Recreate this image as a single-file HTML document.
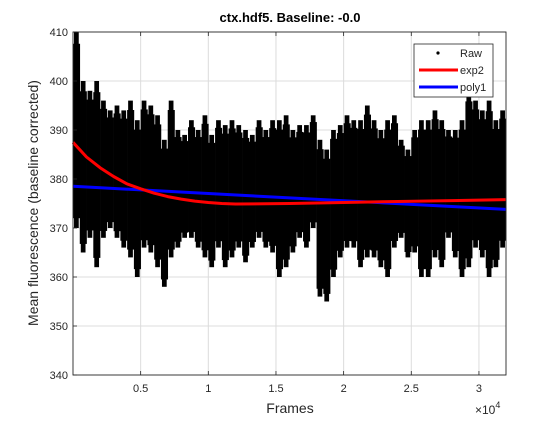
<!DOCTYPE html>
<html><head><meta charset="utf-8"><style>
body{margin:0;background:#fff}
svg text{font-family:"Liberation Sans",Arial,sans-serif;fill:#262626}
</style></head><body>
<svg id="chart" width="560" height="420" xmlns="http://www.w3.org/2000/svg">
<rect x="0" y="0" width="560" height="420" fill="#fff"/>
<g id="grid"></g>
<g id="raw"></g>
<g id="fits"></g>
<g id="axes"></g>
<text x="290" y="22" text-anchor="middle" font-size="13" font-weight="bold" style="fill:#000">ctx.hdf5. Baseline: -0.0</text>
<text x="290" y="413" text-anchor="middle" font-size="14">Frames</text>
<text x="475" y="414" font-size="12">×10<tspan dy="-6" font-size="9">4</tspan></text>
<text transform="translate(38,203) rotate(-90)" text-anchor="middle" font-size="14">Mean fluorescence (baseline corrected)</text>
<g>
<rect x="414" y="44" width="79" height="53" fill="#fff" stroke="#262626" stroke-width="0.8"/>
<circle cx="438" cy="53" r="1.6" fill="#000"/>
<text x="460" y="57" font-size="11">Raw</text>
<line x1="419" y1="70" x2="458" y2="70" stroke="#f00" stroke-width="3"/>
<text x="460" y="74" font-size="11">exp2</text>
<line x1="419" y1="87" x2="458" y2="87" stroke="#00f" stroke-width="3"/>
<text x="460" y="91" font-size="11">poly1</text>
</g>
</svg>
<script>
const binSize = 500;
const rawHi = [410,400,398,400,396,394, 395,394,396,392,396,395,393,388, 396,390,389,392,390,393,
  389,392,391,392,391,390,389,392, 390,392,392,393,390,391,391,393, 388,386,390,391,393,392,392,395,
  392,390,392,393,388,386,390,392, 392,394,392,390,390,392,398,396,394,396,392,394];
const rawLo = [370,365,368,362,368,370, 368,366,364,360,366,365,362,358, 364,366,368,368,366,364,
  362,366,362,364,366,363,366,368, 366,365,360,362,365,368,366,370, 356,355,360,364,366,366,362,364,
  364,362,360,366,368,364,365,360, 360,364,362,368,364,360,362,366,364,360,362,366];
const fitX = [0,1000,2000,3000,4000,5000,6000,7000,8000,9000,10000,11000,12000,16000,20000,24000,28000,32000];
const exp2Y = [387.5,384.5,382.3,380.5,379,378,377.1,376.4,375.9,375.5,375.2,375,374.9,375,375.2,375.4,375.6,375.8];
const poly1X = [0,32000];
const poly1Y = [378.5,373.8];
const xTicks = [5000,10000,15000,20000,25000,30000];
const xTickLabels = ["0.5","1","1.5","2","2.5","3"];
const yTicks = [340,350,360,370,380,390,400,410];

const L=73,R=506,T=32,B=375, X0=0,X1=32000,Y0=340,Y1=410;
const sx=v=>L+(v-X0)/(X1-X0)*(R-L);
const sy=v=>B-(v-Y0)/(Y1-Y0)*(B-T);
const NS="http://www.w3.org/2000/svg";
function mk(tag,attrs,parent){const e=document.createElementNS(NS,tag);for(const k in attrs)e.setAttribute(k,attrs[k]);parent.appendChild(e);return e;}
const grid=document.getElementById('grid'),axes=document.getElementById('axes'),raw=document.getElementById('raw'),fits=document.getElementById('fits');
xTicks.forEach((t,i)=>{
  const g=mk('line',{x1:sx(t),x2:sx(t),y1:T,y2:B,stroke:'#dcdcdc','stroke-width':1},grid);
  
  
  const tk=mk('line',{x1:sx(t),x2:sx(t),y1:B,y2:B-4,stroke:'#262626','stroke-width':0.8},axes);
  
  
  const tk2=mk('line',{x1:sx(t),x2:sx(t),y1:T,y2:T+4,stroke:'#262626','stroke-width':0.8},axes);
  
  
  const tx=mk('text',{x:sx(t),y:B+17,'text-anchor':'middle','font-size':11},axes);
  
  
  tx.textContent=xTickLabels[i];
});
yTicks.forEach(t=>{
  const g=mk('line',{x1:L,x2:R,y1:sy(t),y2:sy(t),stroke:'#dcdcdc','stroke-width':1},grid);
  
  
  const tk=mk('line',{x1:L,x2:L+4,y1:sy(t),y2:sy(t),stroke:'#262626','stroke-width':0.8},axes);
  
  
  const tx=mk('text',{x:L-5,y:sy(t)+4,'text-anchor':'end','font-size':11},axes);
  
  
  tx.textContent=String(t);
});
const box=mk('rect',{x:L,y:T,width:R-L,height:B-T,fill:'none',stroke:'#262626','stroke-width':0.9},axes);


rawHi.forEach((hi,i)=>{
  const lo=rawLo[i];
  const x0=sx(i*binSize),x1=sx((i+1)*binSize);
  const span=hi-lo;
  const core=mk('rect',{x:x0,y:sy(hi-span*0.06),width:x1-x0+0.3,height:sy(lo+span*0.05)-sy(hi-span*0.06),fill:'#000'},raw);
  
  
  const sp=mk('rect',{x:x0+(x1-x0)*0.15,y:sy(hi),width:(x1-x0)*0.7,height:sy(lo)-sy(hi),fill:'#000'},raw);
  
  
});
function path(xs,ys,color,name){
  const d=xs.map((x,i)=>(i?'L':'M')+sx(x).toFixed(1)+','+sy(ys[i]).toFixed(1)).join('');
  const p=mk('path',{d:d,fill:'none',stroke:color,'stroke-width':3,'stroke-linejoin':'round'},fits);
  
  
}
path(poly1X,poly1Y,'#00f','poly1-line');
path(fitX,exp2Y,'#f00','exp2-line');
</script>
</body></html>
